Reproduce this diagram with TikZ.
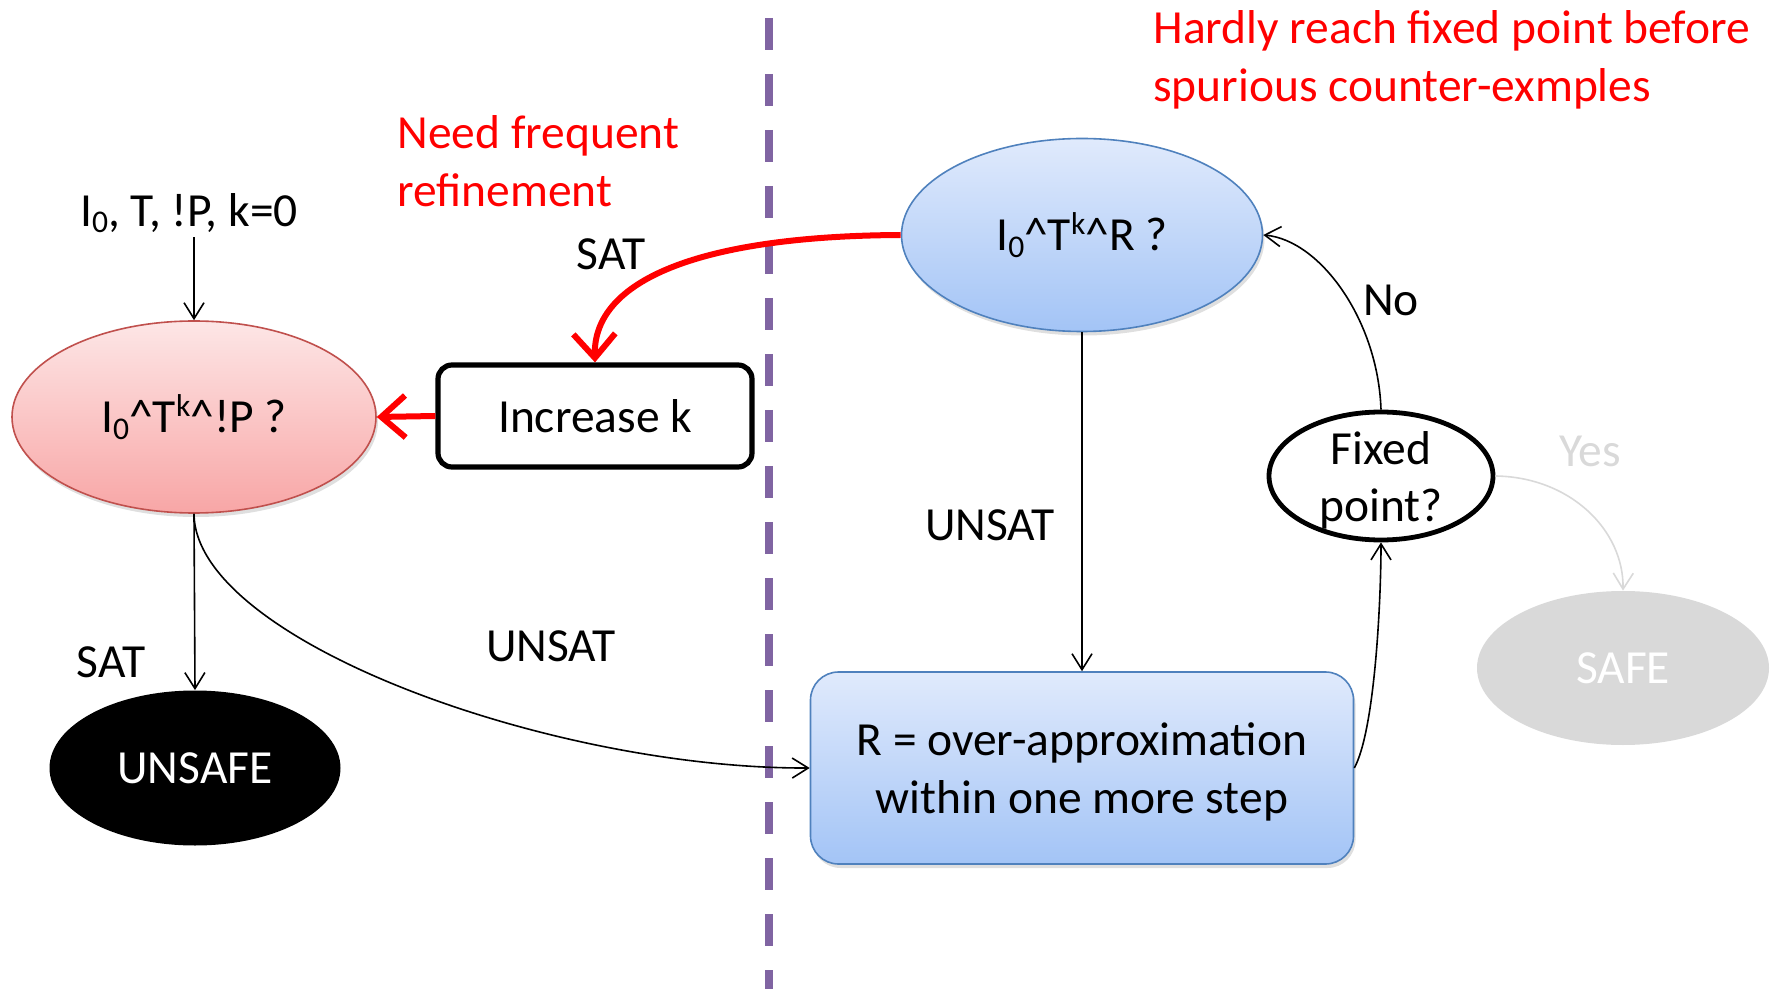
\documentclass[tikz,border=0pt]{standalone}
\usepackage{fontspec}
\setmainfont{Carlito}
\usetikzlibrary{arrows.meta,shapes.geometric,shadows}
\definecolor{redtop}{RGB}{253,230,230}
\definecolor{redbot}{RGB}{248,166,166}
\definecolor{redline}{RGB}{192,80,77}
\definecolor{bluetop}{RGB}{224,234,252}
\definecolor{bluebot}{RGB}{163,196,246}
\definecolor{blueline}{RGB}{79,129,189}
\definecolor{divcol}{RGB}{128,100,162}
\definecolor{lgray}{RGB}{217,217,217}
\definecolor{pred}{RGB}{255,0,0}
\newcommand\mysub[1]{\raisebox{-3.3pt}{\fontsize{15.8}{15.8}\selectfont #1}}
\newcommand\mysup[1]{\raisebox{8pt}{\fontsize{15.8}{15.8}\selectfont #1}}
\newcommand\lowered[2]{\raisebox{-#1}[\height][\depth]{#2}}
\begin{document}
\begin{tikzpicture}[x=0.5pt,y=-0.5pt,
  every node/.style={font=\fontsize{23.75}{29}\selectfont, inner sep=2pt},
  shade/.style={drop shadow={opacity=0.25, shadow xshift=1pt, shadow yshift=-2pt}},
  redell/.style={ellipse, draw=redline, line width=0.8pt, top color=redtop, bottom color=redbot,
    minimum width=182pt, minimum height=96pt, inner sep=0pt, shade},
  blueell/.style={ellipse, draw=blueline, line width=0.8pt, top color=bluetop, bottom color=bluebot,
    minimum width=180.5pt, minimum height=96.5pt, inner sep=0pt, shade},
  bluebox/.style={rectangle, rounded corners=14pt, draw=blueline, line width=0.8pt, top color=bluetop,
    bottom color=bluebot, minimum width=271.5pt, minimum height=96pt, shade},
  incbox/.style={rectangle, rounded corners=7pt, draw=black, line width=2.6pt, fill=white,
    minimum width=157pt, minimum height=51pt},
  fixell/.style={ellipse, draw=black, line width=2.4pt, fill=white, minimum width=112pt,
    minimum height=64pt, inner sep=0pt},
  safeell/.style={ellipse, fill=lgray, text=white, minimum width=146pt, minimum height=77pt},
  unsafeell/.style={ellipse, fill=black, text=white, minimum width=145.5pt, minimum height=77.5pt},
  lbl/.style={text=black},
  note/.style={text=pred, align=left, anchor=west},
  thinarrow/.style={draw=black, line width=0.8pt, -{Straight Barb[length=8pt,width=10pt]}},
  grayarrow/.style={draw=lgray, line width=0.8pt, -{Straight Barb[length=8pt,width=10pt]}},
  redarrow/.style={draw=pred, line width=3pt, -{Straight Barb[length=12pt,width=21pt,line width=3pt]}},
  divider/.style={draw=divcol, line width=4pt, dash pattern=on 16pt off 12pt}
]
\useasboundingbox (0,0) rectangle (1778,989);

% divider
\coordinate (dtop) at (769,18);
\coordinate (dbot) at (769,989);
\draw[divider] (dtop) -- (dbot);

% nodes
\node[lbl] (init) at (189,213) {I\mysub{0}, T, !P, k=0};
\node[redell] (chk) at (194,417) {I\mysub{0}\textasciicircum T\mysup{k}\textasciicircum!P ?};
\node[incbox] (inc) at (595,416) {Increase k};
\node[blueell] (reach) at (1082,235) {I\mysub{0}\textasciicircum T\mysup{k}\textasciicircum R ?};
\node[bluebox] (over) at (1082,768) {\lowered{2.5pt}{\begin{tabular}{@{}c@{}}R = over-approximation\\within one more step\end{tabular}}};
\node[fixell] (fix) at (1381,476) {\raisebox{-8.7pt}[0pt][0pt]{\begin{tabular}{@{}c@{}}Fixed\\[-0.5pt]point?\end{tabular}}};
\node[safeell] (safe) at (1623,668) {SAFE};
\node[unsafeell] (unsafe) at (195,768) {UNSAFE};

% labels
\node[lbl] (satTop) at (611,254) {SAT};
\node[lbl] (satLeft) at (111,662) {SAT};
\node[lbl] (unsatLeft) at (551,646) {UNSAT};
\node[lbl] (unsatRight) at (990,525) {UNSAT};
\node[lbl] (no) at (1391,300) {No};
\node[text=lgray] (yes) at (1590,451) {Yes};
\node[note] (need) at (393,161) {Need frequent\\refinement};
\node[note] (hardly) at (1149,59.5) {Hardly reach fixed point before\\spurious counter-exmples};

% connectors
\draw[thinarrow] (chk.north |- init.south) -- (chk.north);
\draw[redarrow] (reach.west) .. controls (700,236) and (593,280) .. (inc.north);
\draw[redarrow] (inc.west) -- (chk.east);
\draw[thinarrow] (chk.south) -- (unsafe.north);
\draw[thinarrow] (chk.south) .. controls (195,640) and (550,769) .. (over.west);
\draw[thinarrow] (reach.south) -- (over.north);
\draw[thinarrow] (over.east) .. controls (1375,730) and (1381,600) .. (fix.south);
\draw[thinarrow] (fix.north) .. controls (1378,320) and (1320,240) .. (reach.east);
\draw[grayarrow] (fix.east) .. controls (1570,477) and (1624,530) .. (safe.north);
\end{tikzpicture}
\end{document}
